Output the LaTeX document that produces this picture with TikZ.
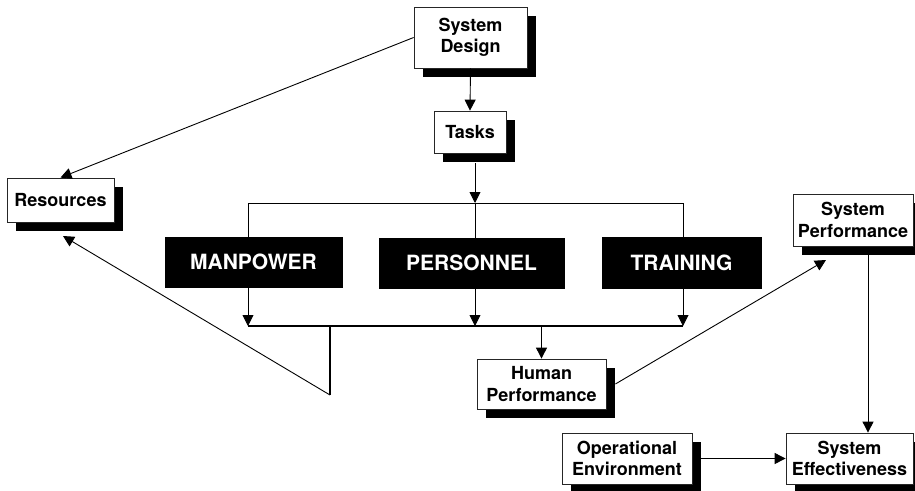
\documentclass[tikz,border=0pt]{standalone}
\usepackage{fontspec}
\setmainfont{TeX Gyre Heros}
\usetikzlibrary{arrows.meta,shadows}
\begin{document}
\begin{tikzpicture}[x=1pt,y=-1pt,
  wbox/.style={draw=black!85, line width=0.8pt, fill=white, inner sep=0pt, align=center,
    font=\fontsize{18}{21.5}\selectfont\bfseries,
    general shadow={fill=black, shadow xshift=9pt, shadow yshift=-9pt}},
  bbox/.style={fill=black, draw=black, inner sep=0pt, text=white,
    font=\fontsize{21}{24}\selectfont\bfseries},
  conn/.style={line width=0.9pt},
  heavy/.style={line width=1.4pt},
  arr/.style={conn, -{Triangle[length=11pt,width=11pt]}}]
\useasboundingbox (0,0) rectangle (915,490);
\fill[white] (0,0) rectangle (915,490);

% bus coordinates
\coordinate (bl) at (248,203);
\coordinate (bm) at (475,203);
\coordinate (br) at (683,203);
\coordinate (cl) at (248,326);
\coordinate (cm) at (475,326);
\coordinate (cr) at (683,326);
\coordinate (drop) at (330,326);
\coordinate (dropend) at (330,395);
\coordinate (resin) at (63,236);
\coordinate (spin) at (826,260);
\coordinate (sxc) at (868,0);

% boxes
\node[wbox, minimum width=113pt, minimum height=61pt] (SD) at (470.5,37.5) {System\\Design};
\node[wbox, minimum width=72pt, minimum height=42pt] (TK) at (470,132) {Tasks};
\node[wbox, minimum width=107pt, minimum height=44pt] (RS) at (60.5,200) {Resources};
\node[bbox, minimum width=177pt, minimum height=50pt] (MP) at (253.5,262) {MANPOWER};
\node[bbox, minimum width=185pt, minimum height=50pt] (PE) at (471.5,263) {PERSONNEL};
\node[bbox, minimum width=159pt, minimum height=51pt] (TR) at (681.5,262.5) {TRAINING};
\node[wbox, minimum width=129pt, minimum height=50pt] (HP) at (541.5,384) {Human\\Performance};
\node[wbox, minimum width=120pt, minimum height=52pt] (SP) at (853,220) {System\\Performance};
\node[wbox, minimum width=130pt, minimum height=51pt] (OE) at (627,458.5) {Operational\\Environment};
\node[wbox, minimum width=127pt, minimum height=51pt] (SE) at (849.5,458.5) {System\\Effectiveness};

% design flow
\draw[arr] (SD.south) -- (TK.north);
\draw[arr] (SD.west) -- (RS.north);
\draw[arr] (TK.south -| bm) ++(0,10) -- (bm);

% upper distribution bus
\draw[conn] (bl) -- (br);
\draw[conn] (bm) -- (PE.north -| bm);
\draw[conn] (bl) -- (MP.north -| bl);
\draw[conn] (br) -- (TR.north -| br);

% lower collecting bus
\draw[arr] (MP.south -| cl) -- (cl);
\draw[arr] (PE.south -| cm) -- (cm);
\draw[arr] (TR.south -| cr) -- (cr);
\draw[heavy] (cl) -- (cr);
\draw[arr] (HP.north |- cl) -- (HP.north);

% feedback to resources
\draw[heavy] (drop) -- (dropend);
\draw[arr] (dropend) -- (resin);

% performance chain
\draw[arr] (HP.east) ++(9,0) -- (spin);
\draw[arr] (SP.south -| sxc) ++(0,9) -- (SE.north -| sxc);
\draw[arr] (OE.east) ++(9,0) -- (SE.west);
\end{tikzpicture}
\end{document}
